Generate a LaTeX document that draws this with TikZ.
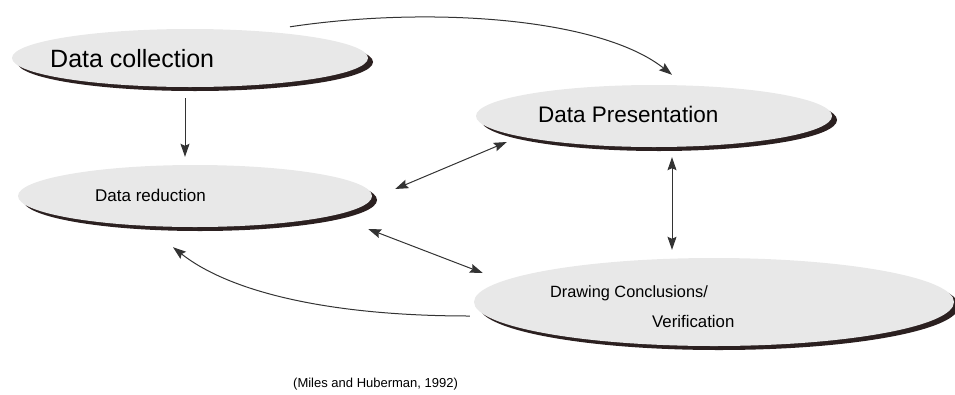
\documentclass[tikz,border=0pt]{standalone}
\usepackage{fontspec}
\setmainfont{Liberation Sans}
\usetikzlibrary{shapes.geometric,shadows,arrows.meta,calc}
\definecolor{shade}{HTML}{2B2020}
\definecolor{pale}{HTML}{E8E8E8}
\definecolor{ink}{HTML}{333333}
\tikzset{
  blob/.style={ellipse, inner sep=0pt, fill=pale, draw=none,
    drop shadow={shadow xshift=5pt, shadow yshift=-4pt, fill=shade, opacity=1}},
  lbl/.style={anchor=base west, inner sep=0pt, text=black},
  arr/.style={draw=ink, line width=1pt, -{Stealth[length=13pt,width=9pt,inset=2pt]}},
  darr/.style={draw=ink, line width=1pt, {Stealth[length=13pt,width=9pt,inset=2pt]}-{Stealth[length=13pt,width=9pt,inset=2pt]}}
}
\begin{document}
\begin{tikzpicture}[x=1pt,y=-1pt]
\useasboundingbox (0,0) rectangle (955,394);
% ellipses
\node[blob, minimum width=356pt, minimum height=58pt] (coll) at (190,58) {};
\node[blob, minimum width=354pt, minimum height=62pt] (red) at (195,196) {};
\node[blob, minimum width=356pt, minimum height=62pt] (pres) at (654,116) {};
\node[blob, minimum width=480pt, minimum height=88pt] (concl) at (714,302) {};
% texts
\node[lbl, font=\fontsize{25}{30}\selectfont] (tcoll) at (50,67) {Data collection};
\node[lbl, font=\fontsize{17}{20}\selectfont] (tred) at (95,201) {Data reduction};
\node[lbl, font=\fontsize{22.5}{27}\selectfont] (tpres) at (538,122) {Data Presentation};
\node[lbl, font=\fontsize{16.3}{20}\selectfont] (tconc) at (550,297) {Drawing Conclusions/};
\node[lbl, font=\fontsize{16.8}{20}\selectfont] (tver) at (652,327) {Verification};
\node[lbl, font=\fontsize{13}{16}\selectfont] (cite) at (293,387) {(Miles and Huberman, 1992)};
% connectors
\draw[arr] ([xshift=-5pt,yshift=-11pt]coll.south) -- ([xshift=-10pt,yshift=8pt]red.north);
\draw[arr] ([xshift=100pt,yshift=2pt]coll.north) .. controls +(140,-21) and +(-72,-57) .. ([xshift=18pt,yshift=10pt]pres.north);
\draw[darr] ([xshift=23pt,yshift=7pt]red.east) -- ([xshift=31pt,yshift=-26pt]pres.west);
\draw[darr] ([xshift=-4pt,yshift=-33pt]red.east) -- ([xshift=9pt,yshift=29pt]concl.west);
\draw[darr] ([xshift=18pt,yshift=-10pt]pres.south) -- ([xshift=-42pt,yshift=8pt]concl.north);
\draw[arr] ([xshift=-4pt,yshift=-14pt]concl.west) .. controls +(-140,0) and +(57,45) .. ([xshift=-22pt,yshift=-20pt]red.south);
\end{tikzpicture}
\end{document}
